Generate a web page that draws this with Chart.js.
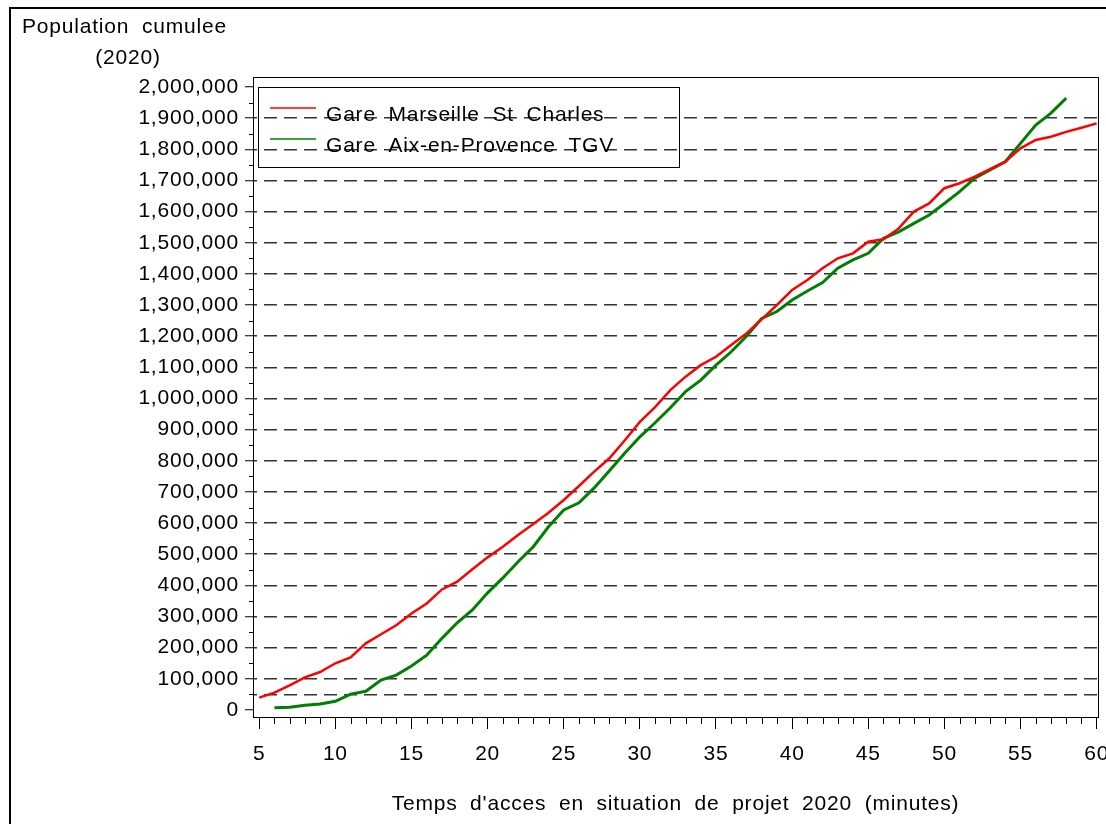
<!DOCTYPE html>
<html>
<head>
<meta charset="utf-8">
<title>Population cumulee</title>
<script src="https://cdn.jsdelivr.net/npm/chart.js@4.4.1/dist/chart.umd.min.js"></script>
<style>
  html, body { margin: 0; padding: 0; background: #fff; overflow: hidden; }
  #wrap { width: 1106px; height: 824px; }
</style>
</head>
<body>
<div id="wrap"><canvas id="myLineChart" width="1106" height="824"></canvas></div>
<script>
// Data (minutes -> cumulated population)
const minutes = [5, 6, 7, 8, 9, 10, 11, 12, 13, 14, 15, 16, 17, 18, 19, 20,
  21, 22, 23, 24, 25, 26, 27, 28, 29, 30, 31, 32, 33, 34, 35, 36, 37, 38, 39, 40,
  41, 42, 43, 44, 45, 46, 47, 48, 49, 50, 51, 52, 53, 54, 55, 56, 57, 58, 59, 60];

const marseille = [39500, 55500, 79000, 105000, 122000, 150000, 169000, 214000,
  243000, 272000, 310000, 342000, 387000, 412000, 452000, 490000,
  524000, 562000, 597000, 633000, 674000, 719000, 765000, 808000,
  865000, 925000, 972000, 1027000, 1070000, 1107000, 1134000, 1172000,
  1209000, 1254000, 1300000, 1348000, 1380000, 1418000, 1450000, 1466000,
  1503000, 1511000, 1546000, 1600000, 1626000, 1675000, 1691000, 1712000,
  1736000, 1760000, 1803000, 1830000, 1840000, 1856000, 1869000, 1883000];

const aix = [null, 7400, 8600, 15000, 19000, 28000, 51000, 60000,
  96000, 112000, 141000, 176000, 230000, 280000, 321000, 376000,
  424000, 476000, 524000, 588000, 642000, 665000, 713000, 768000,
  824000, 877000, 922000, 970000, 1022000, 1059000, 1107000, 1150000,
  1200000, 1257000, 1279000, 1316000, 1345000, 1372000, 1418000, 1445000,
  1466000, 1514000, 1535000, 1562000, 1589000, 1626000, 1664000, 1707000,
  1734000, 1760000, 1819000, 1878000, 1916000, 1964000, null, null];

const seriesLabels = ['Gare Marseille St Charles', 'Gare Aix-en-Provence TGV'];
const seriesColors = ['#ff0000', '#008000'];

// Axis ticks
const xTicks = [5, 10, 15, 20, 25, 30, 35, 40, 45, 50, 55, 60];
const yStep = 100000;
const yTop = 2000000;
const yTitle = ['Population cumulee', '(2020)'];
const xTitle = "Temps d'acces en situation de projet 2020 (minutes)";

const FONT = '"Liberation Sans", Arial, sans-serif';
const FONT_SIZE = 21;

function withCommas(v) {
  return String(v).replace(/\B(?=(\d{3})+(?!\d))/g, ',');
}

// y ticks every half step (minor ones get no label)
const yTickValues = [];
for (let v = 0; v <= yTop; v += yStep / 2) yTickValues.push(v);

function toPoints(values) {
  return minutes.map((m, i) => ({ x: m, y: values[i] }));
}

// Frame, minor ticks, titles and boxed legend
const decorations = {
  id: 'decorations',
  beforeDraw(chart) {
    chart.ctx.letterSpacing = '0.8px';
    chart.ctx.wordSpacing = '6px';
  },
  afterDraw(chart) {
    const ctx = chart.ctx;
    const area = chart.chartArea;
    const xs = chart.scales.x;
    const ys = chart.scales.y;
    ctx.save();
    ctx.strokeStyle = '#000';
    ctx.lineWidth = 1;
    ctx.strokeRect(Math.round(area.left) + 0.5, Math.round(area.top) + 0.5,
      Math.round(area.right - area.left), Math.round(area.bottom - area.top));

    ctx.beginPath();
    for (let m = xTicks[0]; m <= xTicks[xTicks.length - 1]; m++) {
      if (m % 5 === 0) continue;
      const px = Math.round(xs.getPixelForValue(m)) + 0.5;
      ctx.moveTo(px, area.bottom);
      ctx.lineTo(px, area.bottom + 7);
    }
    for (let v = yStep / 2; v < yTop; v += yStep) {
      const py = Math.round(ys.getPixelForValue(v)) + 0.5;
      ctx.moveTo(area.left - 4, py);
      ctx.lineTo(area.left, py);
    }
    ctx.stroke();

    // outer figure border (cut by the picture edge on right/bottom)
    ctx.lineWidth = 2;
    ctx.strokeRect(10, 8, chart.width + 20, chart.height + 20);

    ctx.fillStyle = '#000';
    ctx.font = FONT_SIZE + 'px ' + FONT;
    ctx.textBaseline = 'alphabetic';
    ctx.textAlign = 'left';
    ctx.fillText(yTitle[0], 22, 33);
    ctx.textAlign = 'center';
    ctx.fillText(yTitle[1], 128, 64);
    ctx.fillText(xTitle, (area.left + area.right) / 2, 810);

    // legend
    const lx = area.left + 5;
    const ly = area.top + 10;
    ctx.lineWidth = 1;
    ctx.strokeRect(lx + 0.5, ly + 0.5, 421, 80);
    ctx.textAlign = 'left';
    chart.data.datasets.forEach((ds, i) => {
      const rowY = ly + 21 + i * 31;
      ctx.strokeStyle = ds.borderColor;
      ctx.lineWidth = 1.5;
      ctx.beginPath();
      ctx.moveTo(lx + 12, rowY);
      ctx.lineTo(lx + 58, rowY);
      ctx.stroke();
      ctx.fillText(ds.label, lx + 68, rowY + 13);
    });
    ctx.restore();
  }
};

var ctx = document.getElementById('myLineChart').getContext('2d');
var myLineChart = new Chart(ctx, {
  type: 'line',
  data: {
    datasets: [{
      label: seriesLabels[0],
      data: toPoints(marseille),
      borderColor: seriesColors[0],
      backgroundColor: seriesColors[0],
      borderWidth: 2.5
    },
    {
      label: seriesLabels[1],
      data: toPoints(aix),
      borderColor: seriesColors[1],
      backgroundColor: seriesColors[1],
      borderWidth: 3
    }]
  },
  options: {
    responsive: false,
    animation: false,
    devicePixelRatio: 1,
    layout: { padding: { top: 77, right: 8, bottom: 0, left: 0 } },
    elements: {
      point: { radius: 0 },
      line: { tension: 0 }
    },
    plugins: {
      legend: { display: false },
      tooltip: { enabled: false }
    },
    scales: {
      x: {
        type: 'linear',
        min: 4.59,
        max: 60.09,
        afterBuildTicks: (scale) => { scale.ticks = xTicks.map(v => ({ value: v })); },
        afterFit: (scale) => { scale.height = 107; scale.paddingLeft = 0; scale.paddingRight = 0; },
        grid: { drawOnChartArea: false, tickLength: 12, tickColor: '#000', tickWidth: 1 },
        border: { color: '#000', width: 1 },
        ticks: {
          autoSkip: false,
          maxRotation: 0,
          padding: 13,
          color: '#000',
          font: { family: FONT, size: FONT_SIZE },
          callback: (value) => String(value)
        }
      },
      y: {
        type: 'linear',
        min: -22500,
        max: 2032000,
        afterBuildTicks: (scale) => { scale.ticks = yTickValues.map(v => ({ value: v })); },
        afterFit: (scale) => { scale.width = 253; scale.paddingTop = 0; scale.paddingBottom = 0; },
        grid: {
          tickLength: 8,
          tickWidth: 1,
          lineWidth: 1.5,
          color: (c) => {
            const v = c.tick ? c.tick.value : 0;
            if (v === 50000) return '#333';
            if (v === 0 || v >= yTop || v % yStep !== 0) return 'transparent';
            return '#333';
          },
          tickColor: (c) => (c.tick && c.tick.value % yStep === 0 ? '#000' : 'transparent')
        },
        border: { color: '#000', width: 1, dash: [13, 7], dashOffset: 10 },
        ticks: {
          autoSkip: false,
          padding: 6,
          color: '#000',
          font: { family: FONT, size: FONT_SIZE },
          callback: (value) => (value % yStep === 0 ? withCommas(value) : '')
        }
      }
    }
  },
  plugins: [decorations]
});
</script>
</body>
</html>
